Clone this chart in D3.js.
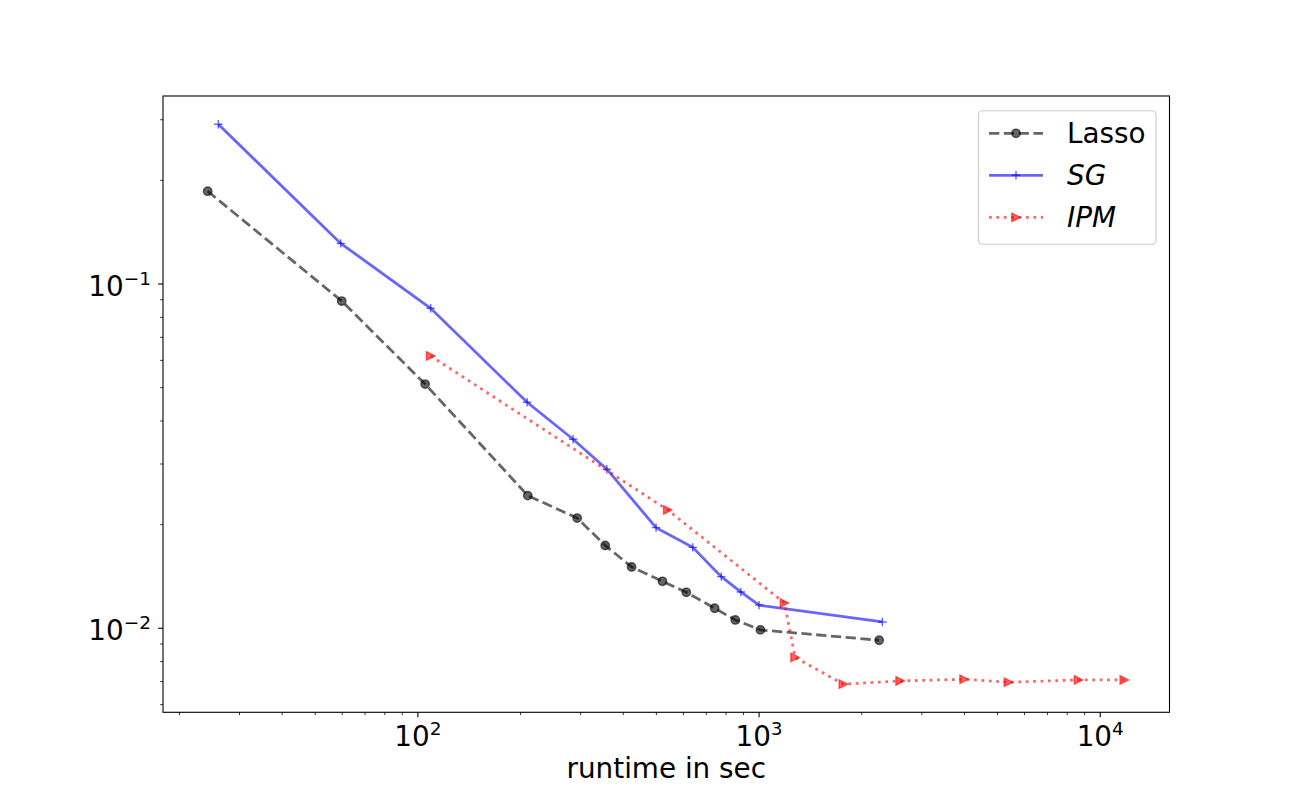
<!DOCTYPE html>
<html><head><meta charset="utf-8">
<script src="https://cdn.jsdelivr.net/npm/d3@7"></script>
<style>body{margin:0;background:#fff}svg{display:block}text{font-family:"DejaVu Sans",sans-serif}</style>
</head><body><svg id="c" width="1300" height="800"></svg>
<script>
const lassoX = [24.2, 59.8, 105, 210, 293, 354, 423, 521, 612, 741, 852, 1009, 2249];
const lassoY = [0.186, 0.0892, 0.0512, 0.02428, 0.0209, 0.0174, 0.01507, 0.01369, 0.01272, 0.01143, 0.01057, 0.00989, 0.00923];
const sgX = [26.0, 59.4, 109, 209, 285, 358, 499, 639, 775, 884, 1000, 2299];
const sgY = [0.291, 0.1312, 0.0850, 0.04533, 0.0354, 0.02897, 0.0196, 0.01718, 0.01412, 0.01275, 0.01167, 0.01043];
const ipmX = [109, 540, 1187, 1275, 1767, 2591, 3990, 5383, 8637, 11760];
const ipmY = [0.0618, 0.02206, 0.01184, 0.00823, 0.00688, 0.00703, 0.00711, 0.00697, 0.00708, 0.00708];
const seriesNames = ["Lasso", "SG", "IPM"];
const xMajorTicks = [100, 1000, 10000];
const xMajorExp = ["2", "3", "4"];
const yMajorTicks = [0.1, 0.01];
const yMajorExp = ["\u22121", "\u22122"];
const xLabel = "runtime in sec";

const L = 163, R = 1169.5, T = 96, B = 712.3;
const x = d3.scaleLog().domain([17.9, 15960]).range([L, R]);
const y = d3.scaleLog().domain([0.00570, 0.3516]).range([B, T]);
const svg = d3.select("#c");

// minor ticks
const xMinor = [], yMinor = [];
[10, 100, 1000, 10000].forEach(d => { for (let k = 2; k <= 9; k++) { const v = d * k; if (v >= x.domain()[0] && v <= x.domain()[1]) xMinor.push(v); } });
[0.001, 0.01, 0.1].forEach(d => { for (let k = 2; k <= 9; k++) { const v = d * k; if (v >= y.domain()[0] && v <= y.domain()[1]) yMinor.push(v); } });

const g = svg.append("g");
g.selectAll(".xmin").data(xMinor).join("line").attr("x1", d => x(d)).attr("x2", d => x(d)).attr("y1", B).attr("y2", B + 2.8).attr("stroke", "#000").attr("stroke-width", 0.8);
g.selectAll(".xmaj").data(xMajorTicks).join("line").attr("x1", d => x(d)).attr("x2", d => x(d)).attr("y1", B).attr("y2", B + 4.9).attr("stroke", "#000").attr("stroke-width", 1.1);
g.selectAll(".ymin").data(yMinor).join("line").attr("y1", d => y(d)).attr("y2", d => y(d)).attr("x1", L).attr("x2", L - 2.8).attr("stroke", "#000").attr("stroke-width", 0.8);
g.selectAll(".ymaj").data(yMajorTicks).join("line").attr("y1", d => y(d)).attr("y2", d => y(d)).attr("x1", L).attr("x2", L - 4.9).attr("stroke", "#000").attr("stroke-width", 1.1);

// tick labels
xMajorTicks.forEach((v, i) => {
  const t = svg.append("text").attr("x", x(v)).attr("y", B + 33.5).attr("text-anchor", "middle").attr("font-size", 27.8).attr("fill", "#000");
  t.append("tspan").text("10");
  t.append("tspan").attr("dy", -10.5).attr("font-size", 18.5).text(xMajorExp[i]);
});
yMajorTicks.forEach((v, i) => {
  const t = svg.append("text").attr("x", 151).attr("y", y(v) + 11.7).attr("text-anchor", "end").attr("font-size", 27.8).attr("fill", "#000");
  t.append("tspan").text("10");
  t.append("tspan").attr("dy", -10.5).attr("font-size", 18.5).text(yMajorExp[i]);
});
svg.append("text").attr("x", (L + R) / 2).attr("y", 778).attr("text-anchor", "middle").attr("font-size", 27.8).attr("fill", "#000").text(xLabel);

// frame
svg.append("rect").attr("x", L).attr("y", T).attr("width", R - L).attr("height", B - T).attr("fill", "none").attr("stroke", "#000").attr("stroke-width", 1.1);

const line = d3.line().x(d => x(d[0])).y(d => y(d[1]));
const lasso = lassoX.map((v, i) => [v, lassoY[i]]);
const sg = sgX.map((v, i) => [v, sgY[i]]);
const ipm = ipmX.map((v, i) => [v, ipmY[i]]);

const plot = svg.append("g");
// Lasso
plot.append("path").datum(lasso).attr("d", line).attr("fill", "none").attr("stroke", "#000").attr("stroke-opacity", 0.6).attr("stroke-width", 2.8).attr("stroke-dasharray", "10.3,4.5");
plot.selectAll(".lm").data(lasso).join("circle").attr("cx", d => x(d[0])).attr("cy", d => y(d[1])).attr("r", 4.2).attr("fill", "#000").attr("fill-opacity", 0.6).attr("stroke", "#000").attr("stroke-opacity", 0.6).attr("stroke-width", 1.4);
// SG
plot.append("path").datum(sg).attr("d", line).attr("fill", "none").attr("stroke", "#0000ff").attr("stroke-opacity", 0.6).attr("stroke-width", 2.8);
plot.selectAll(".sm").data(sg).join("path").attr("d", d => { const cx = x(d[0]), cy = y(d[1]), s = 4.2; return `M${cx - s},${cy}H${cx + s}M${cx},${cy - s}V${cy + s}`; }).attr("stroke", "#0000ff").attr("stroke-opacity", 0.6).attr("stroke-width", 1.4).attr("fill", "none");
// IPM
plot.append("path").datum(ipm).attr("d", line).attr("fill", "none").attr("stroke", "#ff0000").attr("stroke-opacity", 0.6).attr("stroke-width", 2.8).attr("stroke-dasharray", "2.8,4.6");
const tri = (cx, cy, s) => `M${cx + s},${cy}L${cx - s},${cy - s}L${cx - s},${cy + s}Z`;
plot.selectAll(".im").data(ipm).join("path").attr("d", d => tri(x(d[0]), y(d[1]), 4.2)).attr("fill", "#ff0000").attr("fill-opacity", 0.6).attr("stroke", "#ff0000").attr("stroke-opacity", 0.6).attr("stroke-width", 1.4);

// legend
const lg = svg.append("g");
lg.append("rect").attr("x", 978.5).attr("y", 110.7).attr("width", 177.5).attr("height", 133.6).attr("rx", 4).attr("fill", "#fff").attr("fill-opacity", 0.8).attr("stroke", "#cccccc").attr("stroke-width", 1.1);
const rows = [133.3, 175.3, 217.3];
const lx1 = 989, lx2 = 1043, lmid = (lx1 + lx2) / 2;
lg.append("line").attr("x1", lx1).attr("x2", lx2).attr("y1", rows[0]).attr("y2", rows[0]).attr("stroke", "#000").attr("stroke-opacity", 0.6).attr("stroke-width", 2.8).attr("stroke-dasharray", "10.3,4.5");
lg.append("circle").attr("cx", lmid).attr("cy", rows[0]).attr("r", 4.2).attr("fill", "#000").attr("fill-opacity", 0.6).attr("stroke", "#000").attr("stroke-opacity", 0.6).attr("stroke-width", 1.4);
lg.append("line").attr("x1", lx1).attr("x2", lx2).attr("y1", rows[1]).attr("y2", rows[1]).attr("stroke", "#0000ff").attr("stroke-opacity", 0.6).attr("stroke-width", 2.8);
lg.append("path").attr("d", `M${lmid - 4.2},${rows[1]}H${lmid + 4.2}M${lmid},${rows[1] - 4.2}V${rows[1] + 4.2}`).attr("stroke", "#0000ff").attr("stroke-opacity", 0.6).attr("stroke-width", 1.4);
lg.append("line").attr("x1", lx1).attr("x2", lx2).attr("y1", rows[2]).attr("y2", rows[2]).attr("stroke", "#ff0000").attr("stroke-opacity", 0.6).attr("stroke-width", 2.8).attr("stroke-dasharray", "2.8,4.6");
lg.append("path").attr("d", tri(lmid, rows[2], 4.2)).attr("fill", "#ff0000").attr("fill-opacity", 0.6).attr("stroke", "#ff0000").attr("stroke-opacity", 0.6).attr("stroke-width", 1.4);
seriesNames.forEach((n, i) => {
  lg.append("text").attr("x", 1067).attr("y", rows[i] + 10).attr("font-size", 27.8).attr("font-style", i === 0 ? "normal" : "italic").attr("fill", "#000").text(n);
});
</script></body></html>
